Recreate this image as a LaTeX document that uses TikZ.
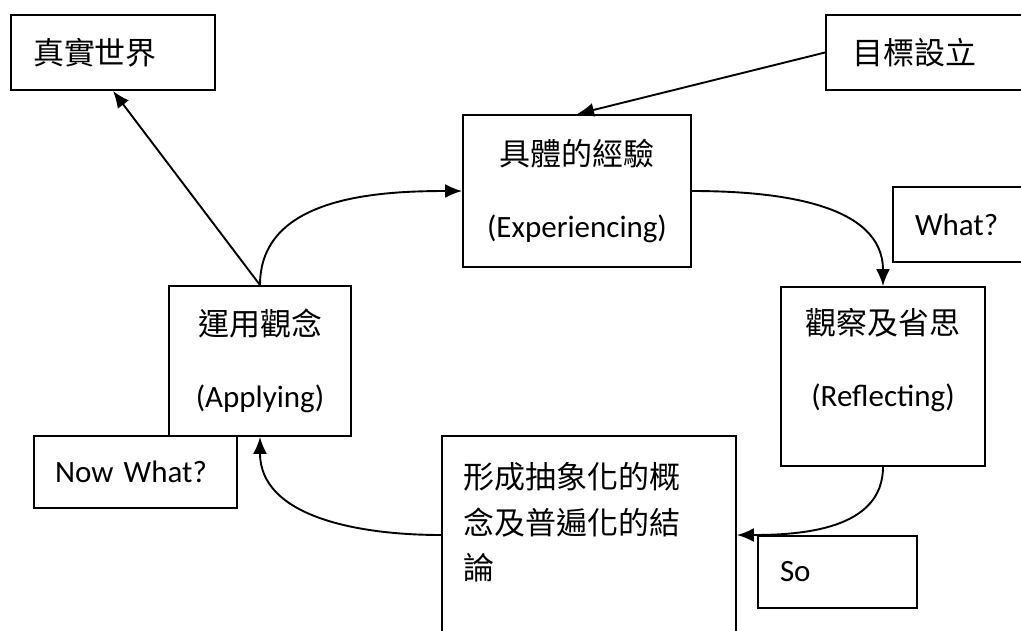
\documentclass[tikz,border=0pt]{standalone}
\usepackage{fontspec}
\setmainfont{Carlito}
\newfontfamily\cjk{Noto Sans CJK TC}
\usetikzlibrary{arrows.meta}

\tikzset{
  box/.style={draw, line width=1.9pt, inner sep=0pt, align=center,
    font=\fontsize{31}{72}\selectfont},
  lbox/.style={box, align=left},
  link/.style={->, line width=1.9pt},
}

\begin{document}
\begin{tikzpicture}[x=1pt, y=1pt, >={Latex[length=17pt,width=14pt]}]
    \useasboundingbox (0,0) rectangle (1021,-630);
    % 方框 (坐标按像素, y 向下为负)
    \node[lbox, text width=160pt, inner xsep=22pt, minimum height=75pt] (world) at (113,-52.5) {\cjk 真實世界};
    \node[lbox, text width=167pt, inner xsep=26pt, minimum height=75pt] (goal) at (935.5,-52.5) {\cjk 目標設立};
    \node[box, minimum width=228pt, minimum height=152pt] (exp) at (577,-191) {{\cjk 具體的經驗}\\(Experiencing)};
    \node[lbox, text width=108pt, inner xsep=22pt, minimum height=75pt] (what) at (969,-224.5) {What?};
    \node[box, minimum width=204pt, minimum height=179pt, text depth=39pt] (refl) at (883,-376.5) {{\cjk 觀察及省思}\\(Reflecting)};
    \node[box, minimum width=182pt, minimum height=150pt] (apply) at (260,-361) {{\cjk 運用觀念}\\(Applying)};
    \node[lbox, text width=161pt, inner xsep=21pt, minimum height=72pt] (nowwhat) at (135.5,-472) {Now What?};
    \node[lbox, text width=252pt, inner xsep=21pt, minimum height=198pt, text depth=119pt,
          font=\fontsize{31}{45.5}\selectfont] (concl) at (589,-535) {\cjk 形成抽象化的概\\念及普遍化的結\\論};
    \node[lbox, text width=115pt, inner xsep=22pt, minimum height=72pt] (so) at (837.5,-572) {So};

    % 连线
    \draw[link] (apply.north) -- (world.south);
    \draw[link] (goal.west) -- (exp.north);
    \draw[link] (apply.north) to[out=90, in=180] (exp.west);
    \draw[link] (exp.east) to[out=0, in=90] (refl.north);
    \draw[link] (refl.south) to[out=-90, in=0] (concl.east);
    \draw[link] (concl.west) to[out=180, in=-90] (apply.south);
\end{tikzpicture}
\end{document}
